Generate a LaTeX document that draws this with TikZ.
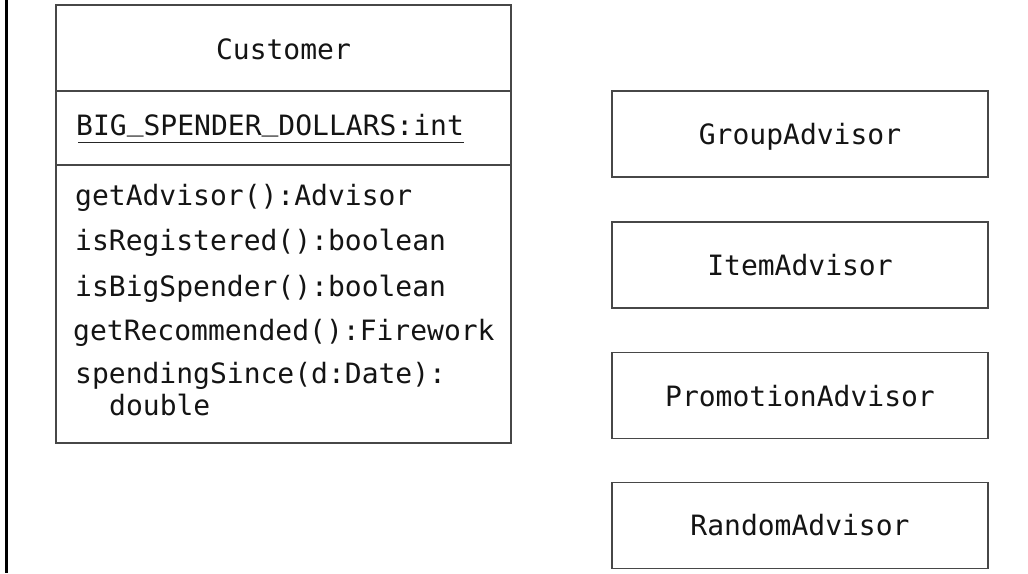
\documentclass[tikz,border=0pt]{standalone}
\usepackage{fontspec}
\setmonofont{DejaVu Sans Mono}
\usetikzlibrary{calc}
\newcommand{\rus}{\raisebox{5pt}{\_}}
\begin{document}
\begin{tikzpicture}[x=1pt,y=-1pt,
  box/.style={draw=black!72, line width=1.7pt, rectangle, inner sep=0pt},
  txt/.style={font=\ttfamily\fontsize{28}{33}\selectfont, inner sep=0pt, text=black!92},
  bar/.style={line width=3pt, draw=black}]
\useasboundingbox (0,0) rectangle (1028,573);
% left bar
\coordinate (bartop) at (6.5,0);
\coordinate (barbot) at (6.5,573);
\draw[bar] (bartop) -- (barbot);
% Customer class
\node[box, minimum width=455pt, minimum height=86pt] (cname) at (283.5,48) {};
\node[box, minimum width=455pt, minimum height=74pt] (cattr) at (283.5,128) {};
\node[box, minimum width=455pt, minimum height=278pt] (cops) at (283.5,304) {};
\node[txt, anchor=base] (cnametxt) at (283.5,59) {Customer};
\node[txt, anchor=base west] (attr) at (76,135) {BIG\rus SPENDER\rus DOLLARS:int};
\draw[line width=1.3pt, black!85] ($(attr.base west)+(2,7.5)$) coordinate (ula) -- ($(attr.base east)+(0,7.5)$) coordinate (ulb);
\node[txt, anchor=base west] (m1) at (75,205) {getAdvisor():Advisor};
\node[txt, anchor=base west] (m2) at (75,250) {isRegistered():boolean};
\node[txt, anchor=base west] (m3) at (75,296) {isBigSpender():boolean};
\node[txt, anchor=base west] (m4) at (73,340) {getRecommended():Firework};
\node[txt, anchor=base west] (m5) at (75,383) {spendingSince(d:Date):};
\node[txt, anchor=base west] (m6) at (109,415) {double};
% Advisor boxes
\node[box, minimum width=376pt, minimum height=86pt] (group) at (800,134) {};
\node[box, minimum width=376pt, minimum height=86pt] (item) at (800,265) {};
\node[box, minimum width=376pt, minimum height=86pt] (promo) at (800,395.5) {};
\node[box, minimum width=376pt, minimum height=86pt] (random) at (800,525.5) {};
\node[txt, anchor=base] (grouptxt) at (800,144) {GroupAdvisor};
\node[txt, anchor=base] (itemtxt) at (800,275) {ItemAdvisor};
\node[txt, anchor=base] (promotxt) at (800,406) {PromotionAdvisor};
\node[txt, anchor=base] (randomtxt) at (800,535) {RandomAdvisor};
\end{tikzpicture}
\end{document}
